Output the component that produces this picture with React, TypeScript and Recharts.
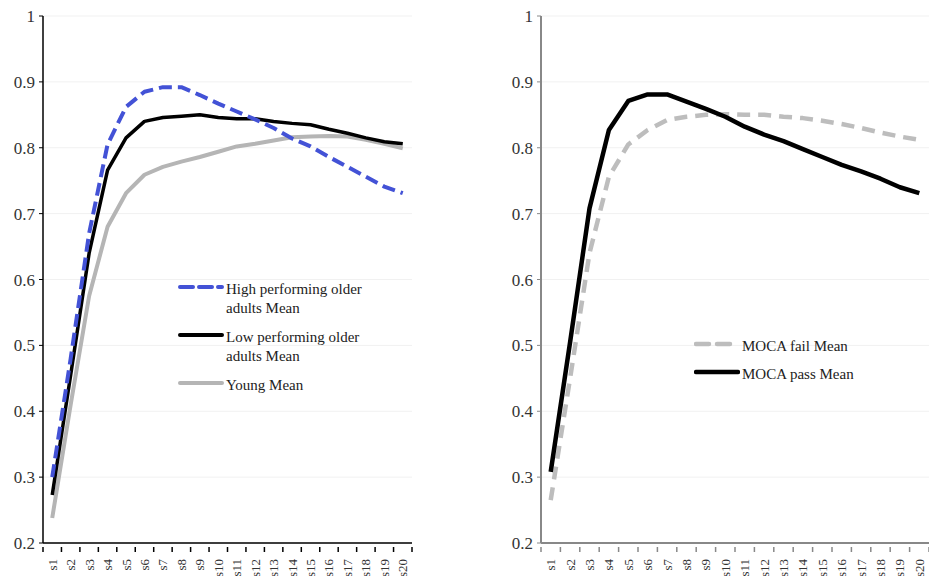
import React from 'react';
import { LineChart, Line, XAxis, YAxis, CartesianGrid } from 'recharts';

const sessions = ['s1', 's2', 's3', 's4', 's5', 's6', 's7', 's8', 's9', 's10', 's11', 's12', 's13', 's14', 's15', 's16', 's17', 's18', 's19', 's20'];
const yTicks = [0.2, 0.3, 0.4, 0.5, 0.6, 0.7, 0.8, 0.9, 1];

const highMean = [0.3, 0.48, 0.67, 0.805, 0.862, 0.885, 0.892, 0.892, 0.88, 0.867, 0.855, 0.843, 0.83, 0.814, 0.802, 0.786, 0.771, 0.756, 0.741, 0.731];
const lowMean = [0.273, 0.455, 0.64, 0.766, 0.815, 0.84, 0.846, 0.848, 0.85, 0.846, 0.844, 0.844, 0.84, 0.837, 0.835, 0.828, 0.822, 0.815, 0.809, 0.806];
const youngMean = [0.238, 0.41, 0.575, 0.68, 0.731, 0.759, 0.771, 0.779, 0.786, 0.794, 0.802, 0.806, 0.811, 0.816, 0.817, 0.818, 0.817, 0.812, 0.806, 0.799];
const mocaFailMean = [0.265, 0.45, 0.64, 0.756, 0.805, 0.827, 0.842, 0.847, 0.85, 0.851, 0.85, 0.85, 0.847, 0.845, 0.841, 0.836, 0.83, 0.823, 0.817, 0.812];
const mocaPassMean = [0.308, 0.505, 0.708, 0.827, 0.871, 0.881, 0.881, 0.87, 0.859, 0.847, 0.832, 0.82, 0.81, 0.798, 0.786, 0.774, 0.764, 0.753, 0.74, 0.731];

const leftData = sessions.map((s, i) => ({ idx: i + 1, session: s, high: highMean[i], low: lowMean[i], young: youngMean[i] }));
const rightData = sessions.map((s, i) => ({ idx: i + 1, session: s, fail: mocaFailMean[i], pass: mocaPassMean[i] }));

// integer positions get a label, half positions get the tick mark (Excel "between categories")
const xTicks = Array.from({ length: 41 }, (_, i) => 0.5 + i * 0.5);

const FONT = '"Liberation Serif", "Times New Roman", serif';

const makeTick = (color: string) => (props: any) => {
  const { x, y, payload } = props;
  const v = payload.value;
  if (Number.isInteger(v)) {
    return (
      <text
        x={x}
        y={y + 8}
        transform={`rotate(-90, ${x}, ${y + 8})`}
        textAnchor="end"
        dominantBaseline="central"
        fontFamily={FONT}
        fontSize={13}
        fill="#333"
      >
        {sessions[v - 1]}
      </text>
    );
  }
  return <line x1={x} x2={x} y1={y - 4} y2={y + 1} stroke={color} strokeWidth={1.5} />;
};

interface LegendItem {
  key: string;
  label: string[];
  color: string;
  dash?: string;
  width: number;
}

const leftLegend: LegendItem[] = [
  { key: 'high', label: ['High performing older', 'adults Mean'], color: '#4352d6', dash: '13 6', width: 4 },
  { key: 'low', label: ['Low performing older', 'adults Mean'], color: '#000', width: 4 },
  { key: 'young', label: ['Young Mean'], color: '#b5b5b5', width: 4 },
];
const rightLegend: LegendItem[] = [
  { key: 'fail', label: ['MOCA fail Mean'], color: '#bdbdbd', dash: '13 8', width: 4.5 },
  { key: 'pass', label: ['MOCA pass Mean'], color: '#000', width: 4.5 },
];

const LegendBox = ({ items, gap }: { items: LegendItem[]; gap: number }) => (
  <div style={{ fontFamily: FONT, fontSize: 15, color: '#222', lineHeight: '19px' }}>
    {items.map((it) => (
      <div key={it.key} style={{ display: 'flex', alignItems: 'flex-start', marginBottom: gap }}>
        <svg width={46} height={14} style={{ flex: 'none' }}>
          <line x1={2} x2={44} y1={7} y2={7} stroke={it.color} strokeWidth={it.width} strokeDasharray={it.dash} strokeLinecap="round" />
        </svg>
        <div style={{ marginLeft: 2 }}>
          {it.label.map((l) => (
            <div key={l}>{l}</div>
          ))}
        </div>
      </div>
    ))}
  </div>
);

const yFmt = (v: number) => (v === 1 ? '1' : v.toFixed(1));

const App = () => {
  return (
    <div style={{ position: 'absolute', left: 0, top: 0, width: 929, height: 576, overflow: 'hidden', background: '#fff' }}>
      <div style={{ position: 'absolute', left: 0, top: 0 }}>
        <LineChart width={430} height={576} data={leftData} margin={{ top: 16, right: 18, left: 0, bottom: 0 }}>
          <CartesianGrid vertical={false} stroke="#f1f1f1" />
          <XAxis
            dataKey="idx"
            type="number"
            domain={[0.5, 20.5]}
            ticks={xTicks}
            interval={0}
            tick={makeTick('#000')}
            tickLine={false}
            axisLine={{ stroke: '#000', strokeWidth: 1.5 }}
            height={33}
          />
          <YAxis
            domain={[0.2, 1]}
            ticks={yTicks}
            tickFormatter={yFmt}
            width={43}
            tickSize={4}
            tickMargin={4}
            axisLine={{ stroke: '#000', strokeWidth: 1.5 }}
            tickLine={{ stroke: '#000' }}
            tick={{ fontFamily: FONT, fontSize: 17, fill: '#333' }}
          />
          <Line type="linear" dataKey="young" stroke="#b5b5b5" strokeWidth={4} strokeLinejoin="round" dot={false} isAnimationActive={false} />
          <Line type="linear" dataKey="low" stroke="#000" strokeWidth={3.5} strokeLinejoin="round" dot={false} isAnimationActive={false} />
          <Line type="linear" dataKey="high" stroke="#4352d6" strokeWidth={4} strokeDasharray="13 6" strokeLinejoin="round" dot={false} isAnimationActive={false} />
        </LineChart>
      </div>
      <div style={{ position: 'absolute', left: 178, top: 280, width: 220 }}>
        <LegendBox items={leftLegend} gap={10} />
      </div>
      <div style={{ position: 'absolute', left: 498, top: 0 }}>
        <LineChart width={431} height={576} data={rightData} margin={{ top: 16, right: 0, left: 0, bottom: 0 }}>
          <CartesianGrid vertical={false} stroke="#f1f1f1" />
          <XAxis
            dataKey="idx"
            type="number"
            domain={[0.5, 20.5]}
            ticks={xTicks}
            interval={0}
            tick={makeTick('#888')}
            tickLine={false}
            axisLine={{ stroke: '#888', strokeWidth: 2 }}
            height={33}
          />
          <YAxis
            domain={[0.2, 1]}
            ticks={yTicks}
            tickFormatter={yFmt}
            width={43}
            tickSize={4}
            tickMargin={4}
            axisLine={{ stroke: '#888', strokeWidth: 2 }}
            tickLine={{ stroke: '#888' }}
            tick={{ fontFamily: FONT, fontSize: 17, fill: '#333' }}
          />
          <Line type="linear" dataKey="fail" stroke="#bdbdbd" strokeWidth={4.5} strokeDasharray="13 8" strokeLinejoin="round" dot={false} isAnimationActive={false} />
          <Line type="linear" dataKey="pass" stroke="#000" strokeWidth={4.5} strokeLinejoin="round" dot={false} isAnimationActive={false} />
        </LineChart>
      </div>
      <div style={{ position: 'absolute', left: 694, top: 337, width: 220 }}>
        <LegendBox items={rightLegend} gap={9} />
      </div>
    </div>
  );
};

export default App;
